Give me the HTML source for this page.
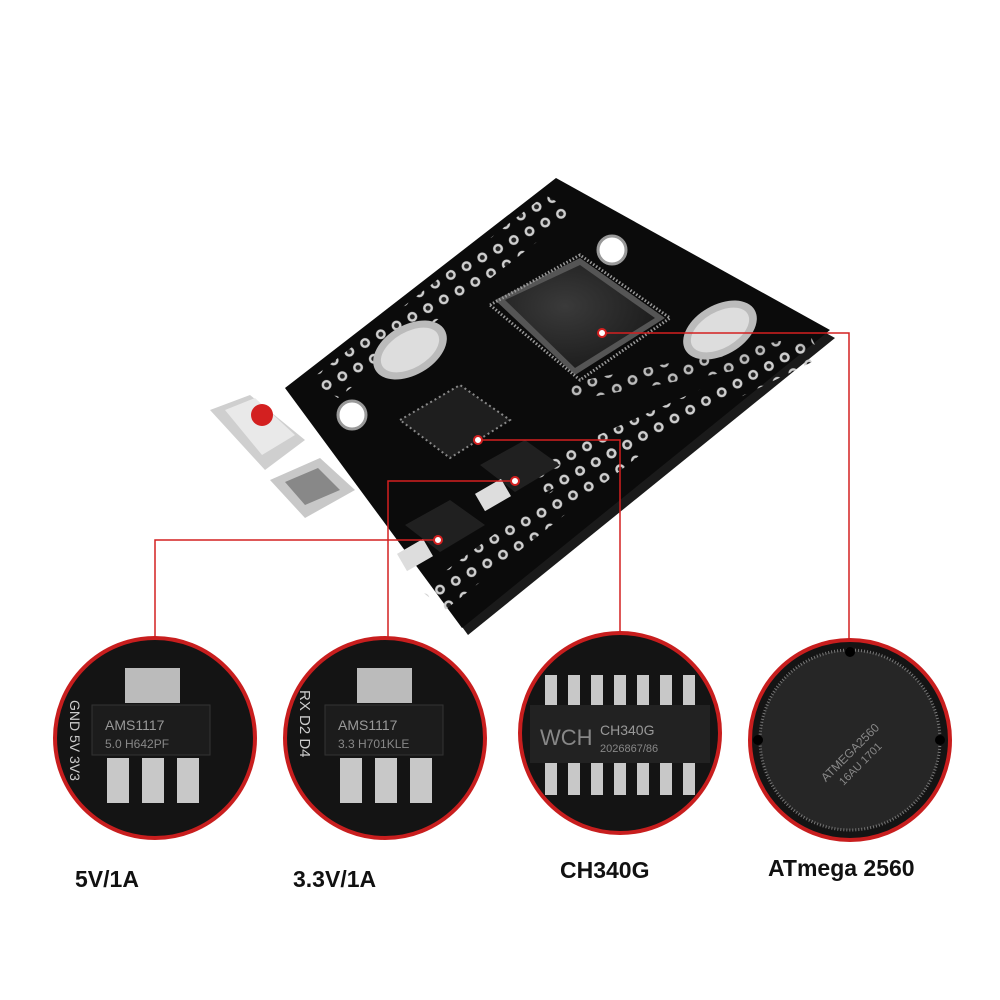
<!DOCTYPE html>
<html><head><meta charset="utf-8"><style>
html,body{margin:0;padding:0;background:#fff;}
svg{display:block}
text{font-family:"Liberation Sans",sans-serif;}
</style></head><body>
<svg width="1000" height="1000" viewBox="0 0 1000 1000" xmlns="http://www.w3.org/2000/svg">
<defs>
<pattern id="holes" width="18" height="18" patternUnits="userSpaceOnUse" patternTransform="rotate(-29)">
<circle cx="9" cy="9" r="5" fill="#cfcfcf"/><circle cx="9" cy="9" r="2.5" fill="#222"/>
</pattern>
<radialGradient id="chip" cx="0.4" cy="0.4" r="0.8"><stop offset="0" stop-color="#3a3a3a"/><stop offset="1" stop-color="#151515"/></radialGradient>
</defs>
<rect width="1000" height="1000" fill="#fff"/>
<!-- board edge -->
<polygon points="292,393 560,185 835,338 468,635" fill="#1a1a1a"/>
<polygon points="285,388 556,178 830,330 462,628" fill="#0b0b0b"/>
<!-- header hole rows -->
<polygon points="310,380 545,195 575,212 338,398" fill="url(#holes)"/>
<polygon points="560,385 810,335 820,355 575,400" fill="url(#holes)" opacity="0.9"/>
<polygon points="520,470 800,345 812,362 540,495" fill="url(#holes)"/>
<polygon points="420,590 620,440 640,455 445,610" fill="url(#holes)"/>
<!-- main chip -->
<polygon points="495,300 580,258 665,318 575,375 " fill="#555"/>
<polygon points="505,300 580,265 655,318 575,368" fill="url(#chip)"/>
<polygon points="490,305 580,255 670,318 580,380" fill="none" stroke="#999" stroke-width="3" stroke-dasharray="1.5 2"/>
<!-- crystals -->
<ellipse cx="410" cy="350" rx="40" ry="25" fill="#bbb" transform="rotate(-30 410 350)"/>
<ellipse cx="410" cy="350" rx="32" ry="18" fill="#ddd" transform="rotate(-30 410 350)"/>
<ellipse cx="720" cy="330" rx="40" ry="25" fill="#bbb" transform="rotate(-30 720 330)"/>
<ellipse cx="720" cy="330" rx="32" ry="18" fill="#ddd" transform="rotate(-30 720 330)"/>
<!-- mounting holes -->
<circle cx="352" cy="415" r="14" fill="#fff" stroke="#999" stroke-width="3"/>
<circle cx="612" cy="250" r="14" fill="#fff" stroke="#999" stroke-width="3"/>
<!-- CH340 -->
<polygon points="400,420 460,385 510,420 450,458" fill="#1e1e1e" stroke="#888" stroke-width="2" stroke-dasharray="2 3"/>
<!-- regulators -->
<polygon points="480,465 525,440 560,465 515,492" fill="#202020"/>
<rect x="478" y="485" width="30" height="20" fill="#ddd" transform="rotate(-30 493 495)"/>
<polygon points="405,525 450,500 485,525 440,552" fill="#202020"/>
<rect x="400" y="545" width="30" height="20" fill="#ddd" transform="rotate(-30 415 555)"/>
<!-- reset button module -->
<polygon points="210,410 250,395 305,440 265,470" fill="#cfcfcf"/>
<polygon points="225,410 255,398 295,435 262,455" fill="#e9e9e9"/>
<circle cx="262" cy="415" r="11" fill="#d32020"/>
<!-- USB -->
<polygon points="270,480 320,458 355,490 305,518" fill="#c8c8c8"/>
<polygon points="285,482 318,468 340,490 305,505" fill="#888"/>
<!-- lines -->
<g stroke="#d42020" stroke-width="1.5" fill="none">
<polyline points="602,333 849,333 849,643"/>
<polyline points="478,440 620,440 620,640"/>
<polyline points="515,481 388,481 388,640"/>
<polyline points="438,540 155,540 155,640"/>
</g>
<g fill="#fff" stroke="#d42020" stroke-width="2">
<circle cx="602" cy="333" r="4"/><circle cx="478" cy="440" r="4"/><circle cx="515" cy="481" r="4"/><circle cx="438" cy="540" r="4"/>
</g>
<!-- circles -->
<g>
<circle cx="155" cy="738" r="100" fill="#141414" stroke="#c81e1e" stroke-width="4"/>
<rect x="125" y="668" width="55" height="35" fill="#bbb"/>
<rect x="92" y="705" width="118" height="50" fill="#1c1c1c" stroke="#333"/>
<text x="105" y="730" font-size="14" fill="#999">AMS1117</text>
<text x="105" y="748" font-size="12" fill="#888">5.0  H642PF</text>
<rect x="107" y="758" width="22" height="45" fill="#c8c8c8"/><rect x="142" y="758" width="22" height="45" fill="#c8c8c8"/><rect x="177" y="758" width="22" height="45" fill="#c8c8c8"/>
<text x="70" y="700" font-size="14" fill="#ccc" transform="rotate(90 70 700)">GND 5V 3V3</text>

<circle cx="385" cy="738" r="100" fill="#141414" stroke="#c81e1e" stroke-width="4"/>
<rect x="357" y="668" width="55" height="35" fill="#bbb"/>
<rect x="325" y="705" width="118" height="50" fill="#1c1c1c" stroke="#333"/>
<text x="338" y="730" font-size="14" fill="#999">AMS1117</text>
<text x="338" y="748" font-size="12" fill="#888">3.3  H701KLE</text>
<rect x="340" y="758" width="22" height="45" fill="#c8c8c8"/><rect x="375" y="758" width="22" height="45" fill="#c8c8c8"/><rect x="410" y="758" width="22" height="45" fill="#c8c8c8"/>
<text x="300" y="690" font-size="15" fill="#ccc" transform="rotate(90 300 690)">RX D2 D4</text>

<circle cx="620" cy="733" r="100" fill="#141414" stroke="#c81e1e" stroke-width="4"/>
<g fill="#c8c8c8">
<rect x="545" y="675" width="12" height="35"/><rect x="568" y="675" width="12" height="35"/><rect x="591" y="675" width="12" height="35"/><rect x="614" y="675" width="12" height="35"/><rect x="637" y="675" width="12" height="35"/><rect x="660" y="675" width="12" height="35"/><rect x="683" y="675" width="12" height="35"/>
<rect x="545" y="760" width="12" height="35"/><rect x="568" y="760" width="12" height="35"/><rect x="591" y="760" width="12" height="35"/><rect x="614" y="760" width="12" height="35"/><rect x="637" y="760" width="12" height="35"/><rect x="660" y="760" width="12" height="35"/><rect x="683" y="760" width="12" height="35"/>
</g>
<rect x="530" y="705" width="180" height="58" fill="#222"/>
<text x="540" y="745" font-size="22" fill="#888">WCH</text>
<text x="600" y="735" font-size="14" fill="#999">CH340G</text>
<text x="600" y="752" font-size="11" fill="#888">2026867/86</text>

<circle cx="850" cy="740" r="100" fill="#141414" stroke="#c81e1e" stroke-width="4"/>
<circle cx="850" cy="740" r="90" fill="#262626" stroke="#777" stroke-width="3" stroke-dasharray="1 2"/>
<circle cx="850" cy="652" r="5" fill="#000"/><circle cx="940" cy="740" r="5" fill="#000"/><circle cx="758" cy="740" r="5" fill="#000"/>
<text x="800" y="760" font-size="12" fill="#888" transform="rotate(-45 840 740)">ATMEGA2560</text>
<text x="810" y="775" font-size="11" fill="#888" transform="rotate(-45 840 740)">16AU 1701</text>
</g>
<!-- labels -->
<g font-weight="bold" font-size="23" fill="#111">
<text x="75" y="887">5V/1A</text>
<text x="293" y="887">3.3V/1A</text>
<text x="560" y="878">CH340G</text>
<text x="768" y="876">ATmega 2560</text>
</g>
</svg>
</body></html>
